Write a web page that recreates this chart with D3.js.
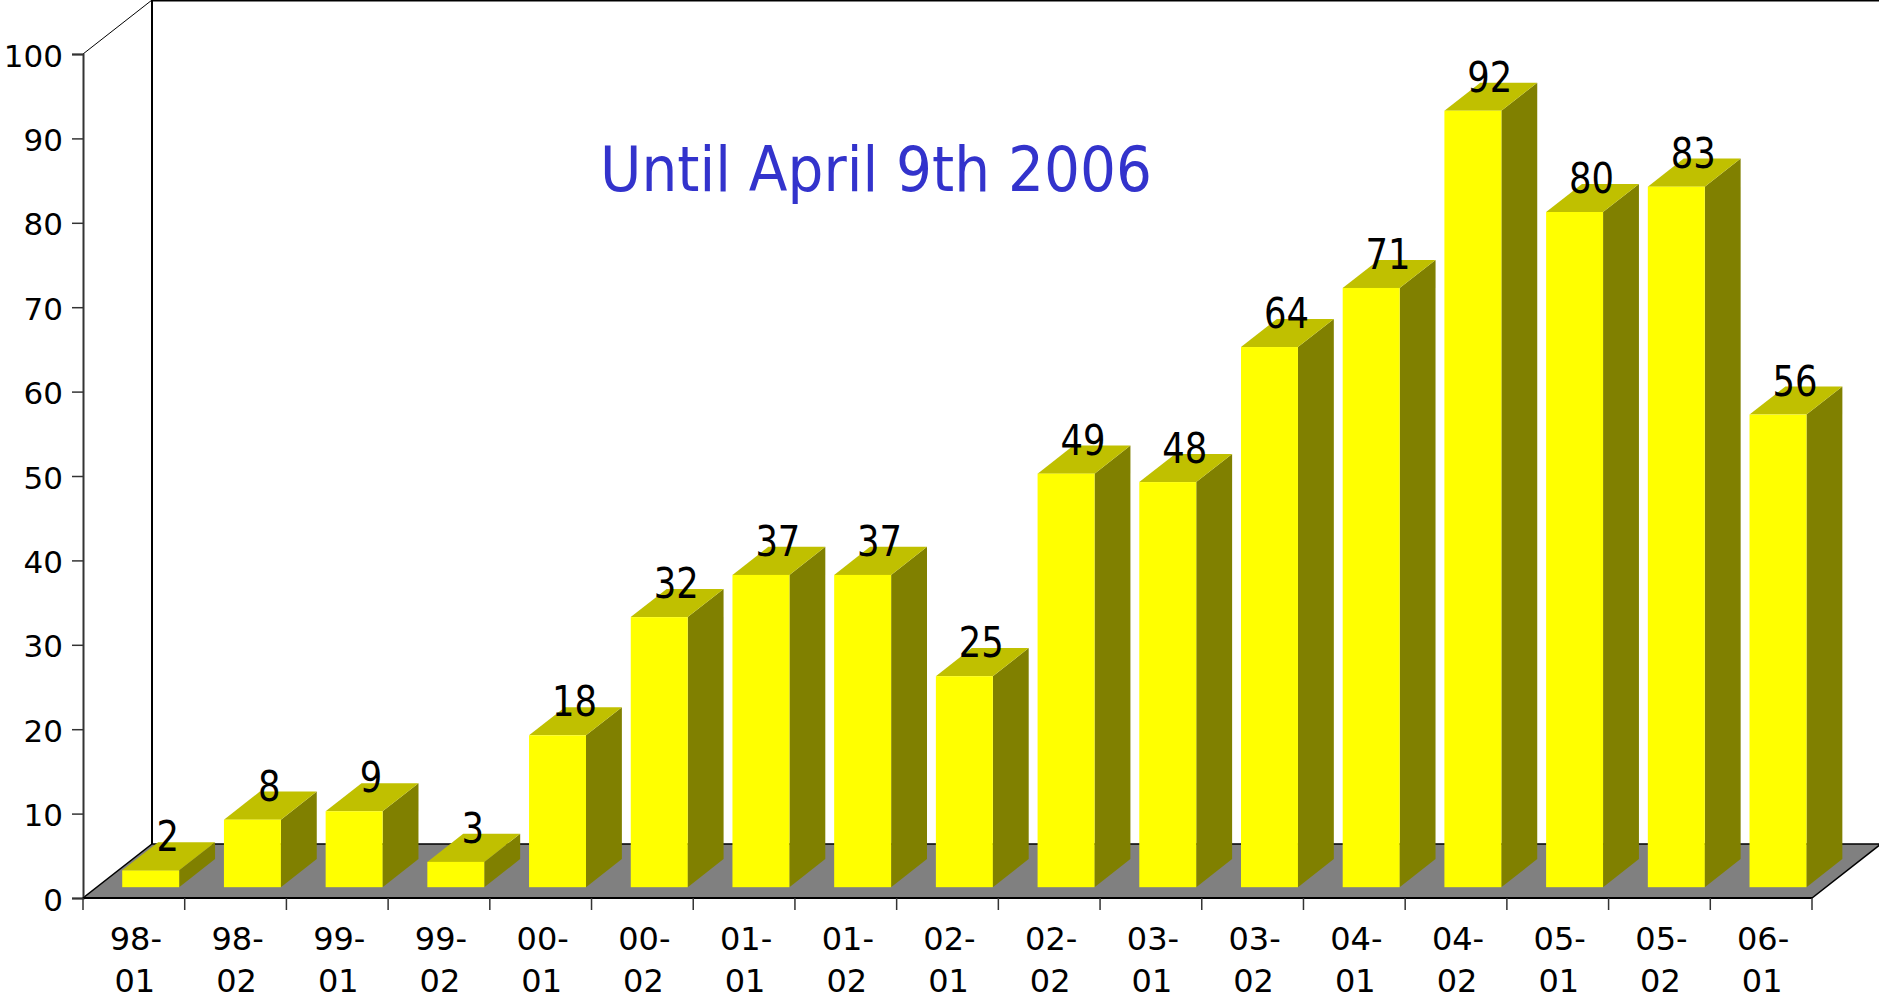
<!DOCTYPE html>
<html>
<head>
<meta charset="utf-8">
<script src="https://cdn.jsdelivr.net/npm/d3@7"></script>
<style>
  body { margin: 0; background: #fff; }
  svg { display: block; font-family: "DejaVu Sans", Verdana, sans-serif; }
</style>
</head>
<body>
<div id="chart"></div>
<script>
// Chart data
const categories = ['98-01', '98-02', '99-01', '99-02', '00-01', '00-02', '01-01', '01-02', '02-01',
                    '02-02', '03-01', '03-02', '04-01', '04-02', '05-01', '05-02', '06-01'];
const counts = [2, 8, 9, 3, 18, 32, 37, 37, 25, 49, 48, 64, 71, 92, 80, 83, 56];
const yTicks = [0, 10, 20, 30, 40, 50, 60, 70, 80, 90, 100];
const title = 'Until April 9th 2006';

const width = 1879;
const height = 1004;

// front plane of the 3d box
const plotLeft = 83, plotRight = 1812, plotBottom = 898, plotTop = 54;
// depth offset of the back wall
const depthX = 69, depthY = 54;
// bars sit between these depth fractions
const barFront = 0.2, barDepth = 0.52;

const svg = d3.select('#chart')
    .append('svg')
    .attr('width', width)
    .attr('height', height);

const x = d3.scaleBand()
    .domain(categories)
    .range([plotLeft, plotRight]);

const y = d3.scaleLinear()
    .domain([0, 100])
    .range([plotBottom, plotTop]);

// Floor
svg.append('polygon')
    .attr('points', [[plotLeft, plotBottom], [plotRight, plotBottom],
                     [plotRight + depthX, plotBottom - depthY], [plotLeft + depthX, plotBottom - depthY]].join(' '))
    .attr('fill', '#808080')
    .attr('stroke', '#000')
    .attr('stroke-width', 1.5);

// Walls
const walls = svg.append('g').attr('fill', 'none').attr('stroke', '#000');
walls.append('line')
    .attr('x1', plotLeft + depthX).attr('y1', 0)
    .attr('x2', plotLeft + depthX).attr('y2', plotBottom - depthY)
    .attr('stroke-width', 2);
walls.append('line')
    .attr('x1', plotLeft + depthX).attr('y1', 0.75)
    .attr('x2', width).attr('y2', 0.75)
    .attr('stroke-width', 1.5);
walls.append('line')
    .attr('x1', plotLeft).attr('y1', plotTop)
    .attr('x2', plotLeft + depthX).attr('y2', plotTop - depthY)
    .attr('stroke-width', 1);

// Y axis
const yAxis = svg.append('g')
    .attr('transform', `translate(${plotLeft},0)`)
    .call(d3.axisLeft(y).tickValues(yTicks).tickSize(11).tickPadding(9));
yAxis.select('.domain').attr('stroke', '#333').attr('stroke-width', 2);
yAxis.selectAll('.tick line').attr('stroke', '#333').attr('stroke-width', 1.5);
yAxis.selectAll('.tick text')
    .attr('font-family', '"DejaVu Sans", Verdana, sans-serif')
    .attr('font-size', 31)
    .attr('fill', '#000')
    .attr('dy', 12);

// X axis line and ticks at band edges
const xEdges = categories.map(c => x(c)).concat([plotRight]);
svg.append('line')
    .attr('x1', plotLeft).attr('y1', plotBottom)
    .attr('x2', plotRight).attr('y2', plotBottom)
    .attr('stroke', '#000')
    .attr('stroke-width', 2);
svg.append('g')
    .selectAll('line')
    .data(xEdges)
    .enter()
    .append('line')
    .attr('x1', d => d).attr('x2', d => d)
    .attr('y1', plotBottom).attr('y2', plotBottom + 12)
    .attr('stroke', '#333')
    .attr('stroke-width', 1.5);

// X labels on two lines
const xLabels = svg.append('g')
    .selectAll('text')
    .data(categories)
    .enter()
    .append('text')
    .attr('text-anchor', 'middle')
    .attr('font-size', 32)
    .attr('fill', '#000');
xLabels.append('tspan')
    .attr('x', d => x(d) + x.bandwidth() / 2 + 2)
    .attr('y', 950)
    .text(d => d.split('-')[0] + '-');
xLabels.append('tspan')
    .attr('x', d => x(d) + x.bandwidth() / 2 + 1)
    .attr('y', 992)
    .text(d => d.split('-')[1]);

// Bars
const bw = x.bandwidth();
const bx0 = 0.25 * bw, bWidth = 0.56 * bw;
const fx = barFront * depthX, fy = barFront * depthY;
const dx = barDepth * depthX, dy = barDepth * depthY;

const barData = categories.map((c, i) => ({ cat: c, value: counts[i] }));

function barGeom(d) {
    const x0 = x(d.cat) + bx0 + fx;
    const x1 = x0 + bWidth;
    const yb = y(0) - fy;
    const yt = y(d.value) - fy;
    return { x0, x1, yb, yt };
}

const bars = svg.append('g')
    .selectAll('g')
    .data(barData)
    .enter()
    .append('g');

// side face
bars.append('polygon')
    .attr('points', d => {
        const g = barGeom(d);
        return [[g.x1, g.yb], [g.x1 + dx, g.yb - dy], [g.x1 + dx, g.yt - dy], [g.x1, g.yt]].join(' ');
    })
    .attr('fill', '#808000');

// top face
bars.append('polygon')
    .attr('points', d => {
        const g = barGeom(d);
        return [[g.x0, g.yt], [g.x1, g.yt], [g.x1 + dx, g.yt - dy], [g.x0 + dx, g.yt - dy]].join(' ');
    })
    .attr('fill', '#c0c000');

// front face
bars.append('rect')
    .attr('x', d => barGeom(d).x0)
    .attr('y', d => barGeom(d).yt)
    .attr('width', bWidth)
    .attr('height', d => barGeom(d).yb - barGeom(d).yt)
    .attr('fill', '#ffff00');

// Value labels
svg.append('g')
    .selectAll('text')
    .data(barData)
    .enter()
    .append('text')
    .attr('x', d => barGeom(d).x0 + bWidth / 2 + dx / 2 - 1)
    .attr('y', d => barGeom(d).yt - 19)
    .attr('text-anchor', 'middle')
    .attr('font-size', 43)
    .attr('fill', '#000')
    .attr('textLength', d => String(d.value).length * 22.5)
    .attr('lengthAdjust', 'spacingAndGlyphs')
    .text(d => d.value);

// Title
svg.append('text')
    .attr('x', 876)
    .attr('y', 191)
    .attr('text-anchor', 'middle')
    .attr('font-size', 63)
    .attr('fill', '#3333cc')
    .attr('textLength', 552)
    .attr('lengthAdjust', 'spacingAndGlyphs')
    .text(title);
</script>
</body>
</html>
